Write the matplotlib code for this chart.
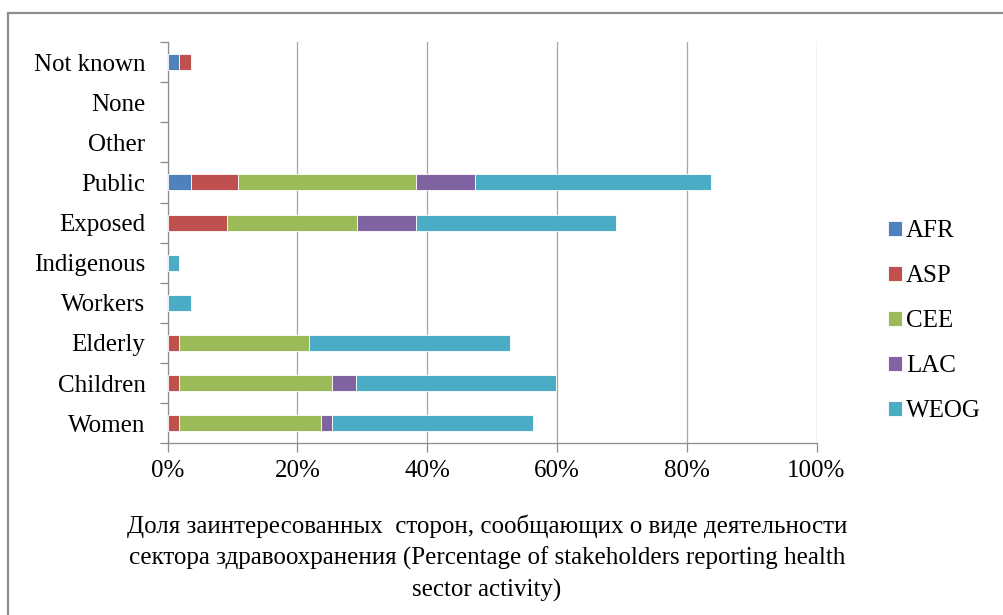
import matplotlib
matplotlib.use("Agg")
import matplotlib.pyplot as plt
from matplotlib.patches import Rectangle, Patch
from matplotlib.ticker import MultipleLocator, FuncFormatter, FixedLocator
import numpy as np

plt.rcParams['font.family'] = ['Liberation Serif', 'DejaVu Serif']

# Stakeholder groups, bottom to top
categories = ["Women", "Children", "Elderly", "Workers", "Indigenous",
              "Exposed", "Public", "Other", "None", "Not known"]

# Share of stakeholders (%) by region
regions = ["AFR", "ASP", "CEE", "LAC", "WEOG"]
afr = [0.0, 0.0, 0.0, 0.0, 0.0, 0.0, 3.6, 0.0, 0.0, 1.8]
asp = [1.8, 1.8, 1.8, 0.0, 0.0, 9.1, 7.3, 0.0, 0.0, 1.8]
cee = [21.8, 23.6, 20.0, 0.0, 0.0, 20.0, 27.3, 0.0, 0.0, 0.0]
lac = [1.8, 3.6, 0.0, 0.0, 0.0, 9.1, 9.1, 0.0, 0.0, 0.0]
weog = [30.9, 30.9, 30.9, 3.6, 1.8, 30.9, 36.4, 0.0, 0.0, 0.0]

colors = ["#4F81BD", "#C0504D", "#9BBB59", "#8064A2", "#4BACC6"]

xlabel = ("Доля заинтересованных  сторон, сообщающих о виде деятельности\n"
          "сектора здравоохранения (Percentage of stakeholders reporting health\n"
          "sector activity)")

FS = 18
W, H = 1004, 615
fig = plt.figure(figsize=(W / 100, H / 100), dpi=100)
ax = fig.add_axes([167.7 / W, 1 - 443.3 / H, (816.5 - 167.7) / W, (443.3 - 42) / H])

y = np.arange(len(categories))
left = np.zeros(len(categories))
for name, vals, c in zip(regions, [afr, asp, cee, lac, weog], colors):
    vals = np.array(vals)
    nz = vals > 0
    ax.barh(y[nz], vals[nz], left=left[nz], height=0.4, color=c,
            edgecolor="white", linewidth=0.6, zorder=3)
    left += vals

ax.set_xlim(0, 100)
ax.set_ylim(-0.5, len(categories) - 0.5)

grey = "#8C8C8C"
ax.xaxis.set_major_locator(MultipleLocator(20))
ax.xaxis.set_major_formatter(FuncFormatter(lambda v, p: f"{v:.0f}%"))
ax.grid(axis="x", color="#A6A6A6", linewidth=0.9, zorder=0)

ax.set_yticks(y)
ax.set_yticklabels(categories)
ax.yaxis.set_minor_locator(FixedLocator(np.arange(-0.5, len(categories), 1.0)))
ax.tick_params(axis="y", which="major", length=0, pad=16, labelsize=FS)
ax.tick_params(axis="y", which="minor", length=5.5, width=0.9, color=grey)
ax.tick_params(axis="x", which="major", length=6.5, width=0.9, color=grey,
               pad=5.5, labelsize=FS)

for s in ["top", "right"]:
    ax.spines[s].set_visible(False)
for s in ["left", "bottom"]:
    ax.spines[s].set_color(grey)
    ax.spines[s].set_linewidth(0.9)

fig.text(487 / W, 1 - 558 / H, xlabel, ha="center", va="center",
         fontsize=FS, linespacing=1.49)

handles = [Patch(facecolor=c, edgecolor="white", linewidth=0.6, label=r)
           for r, c in zip(regions, colors)]
leg = fig.legend(handles=handles, loc="center left",
                 bbox_to_anchor=(888 / W, 1 - 321 / H),
                 frameon=False, fontsize=FS, handlelength=0.56,
                 handleheight=0.56, handletextpad=0.16, labelspacing=0.92,
                 borderaxespad=0, borderpad=0)

# outer chart frame
fig.patches.append(Rectangle((8 / W, -0.05), 1.1, 1.05 - 13 / H,
                             transform=fig.transFigure, fill=False,
                             edgecolor=grey, linewidth=1.6))

fig.savefig("out.png", dpi=100)
